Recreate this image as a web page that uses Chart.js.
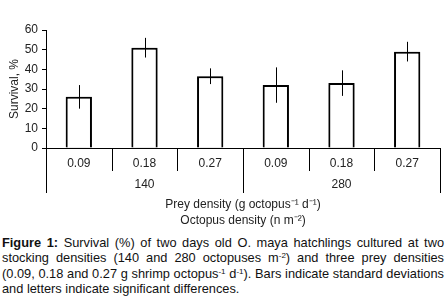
<!DOCTYPE html>
<html>
<head>
<meta charset="utf-8">
<script src="https://cdn.jsdelivr.net/npm/chart.js@4.4.0/dist/chart.umd.min.js"></script>
<style>
body{margin:0;background:#fff;font-family:"Liberation Sans",Arial,sans-serif;}
#wrap{position:relative;width:447px;height:228px;}
#caption{margin:7px 0 0 2px;width:442px;font-size:12.8px;line-height:15.3px;text-align:justify;color:#111;}
#caption sup{font-size:8px;line-height:0;vertical-align:4px;}
</style>
</head>
<body>
<div id="wrap"><canvas id="chart"></canvas></div>
<div id="caption"><b>Figure 1:</b> Survival (%) of two days old O. maya hatchlings cultured at two stocking densities (140 and 280 octopuses m<sup>-2</sup>) and three prey densities (0.09, 0.18 and 0.27 g shrimp octopus<sup>-1</sup> d<sup>-1</sup>). Bars indicate standard deviations and letters indicate significant differences.</div>
<script>
const preyDensity = ["0.09", "0.18", "0.27", "0.09", "0.18", "0.27"];
const octopusDensity = ["140", "280"];
const survival = [26, 51, 36.5, 32, 33, 49];
const stdDev = [6, 5, 4, 9, 6.5, 5];
const yTicks = [0, 10, 20, 30, 40, 50, 60];

// middle bar of each group carries the octopus density on a second line
const labels = preyDensity.map((p, i) => (i % 3 === 1 ? [p, octopusDensity[Math.floor(i / 3)]] : p));

const barShadow = {
  id: "barShadow",
  beforeDatasetDraw(chart) {
    const ctx = chart.ctx;
    ctx.save();
    ctx.shadowColor = "rgba(0,0,0,0.35)";
    ctx.shadowBlur = 4;
  },
  afterDatasetDraw(chart) {
    chart.ctx.restore();
  }
};

const errorBars = {
  id: "errorBars",
  afterDatasetsDraw(chart) {
    const ctx = chart.ctx;
    const y = chart.scales.y;
    chart.getDatasetMeta(0).data.forEach((bar, i) => {
      const px = Math.round(bar.x) + 0.5;
      ctx.save();
      ctx.strokeStyle = "#000";
      ctx.lineWidth = 1;
      ctx.beginPath();
      ctx.moveTo(px, y.getPixelForValue(survival[i] + stdDev[i]));
      ctx.lineTo(px, y.getPixelForValue(survival[i] - stdDev[i]));
      ctx.stroke();
      ctx.restore();
    });
  }
};

const groupLines = {
  id: "groupLines",
  afterDraw(chart) {
    const ctx = chart.ctx;
    const x = chart.scales.x;
    const n = preyDensity.length;
    ctx.save();
    ctx.strokeStyle = "#000";
    ctx.lineWidth = 1;
    for (let i = 0; i <= n; i++) {
      let px;
      if (i === 0) px = x.left;
      else if (i === n) px = x.right;
      else px = (x.getPixelForValue(i - 1) + x.getPixelForValue(i)) / 2;
      px = Math.round(px) + 0.5;
      const len = i % 3 === 0 ? 45 : 23;
      ctx.beginPath();
      ctx.moveTo(px, x.top);
      ctx.lineTo(px, x.top + len);
      ctx.stroke();
    }
    ctx.restore();
  }
};

new Chart(document.getElementById("chart"), {
  type: "bar",
  data: {
    labels: labels,
    datasets: [{
      data: survival,
      backgroundColor: "#fff",
      borderColor: "#000",
      borderWidth: 2,
      barPercentage: 0.4,
      categoryPercentage: 1
    }]
  },
  options: {
    responsive: true,
    maintainAspectRatio: false,
    animation: false,
    layout: { padding: { top: 30, right: 7, bottom: 0, left: 0 } },
    plugins: { legend: { display: false }, tooltip: { enabled: false } },
    scales: {
      x: {
        grid: { display: false, drawTicks: false },
        border: { display: true, color: "#000", width: 1 },
        ticks: {
          padding: 5,
          color: "#222",
          font: { family: "Liberation Sans", size: 12, lineHeight: 1.75 },
          maxRotation: 0,
          autoSkip: false
        },
        title: {
          display: true,
          text: ["Prey density (g octopus\u207B\u00B9 d\u207B\u00B9)", "Octopus density (n m\u207B\u00B2)"],
          color: "#222",
          font: { family: "Liberation Sans", size: 12, lineHeight: 1.3 },
          padding: { top: 0, bottom: 0 }
        },
        afterFit(s) { s.height = 80; }
      },
      y: {
        min: 0,
        max: 60,
        afterBuildTicks(s) { s.ticks = yTicks.map(v => ({ value: v })); },
        grid: { drawOnChartArea: false, drawTicks: true, tickLength: 4, color: "#000" },
        border: { display: true, color: "#000", width: 1 },
        ticks: {
          padding: 4,
          color: "#222",
          font: { family: "Liberation Sans", size: 12 }
        },
        title: {
          display: true,
          text: "Survival, %",
          color: "#222",
          font: { family: "Liberation Sans", size: 12 },
          padding: { top: 7, bottom: 0 }
        },
        afterFit(s) { s.width = 46; }
      }
    }
  },
  plugins: [barShadow, errorBars, groupLines]
});
</script>
</body>
</html>
